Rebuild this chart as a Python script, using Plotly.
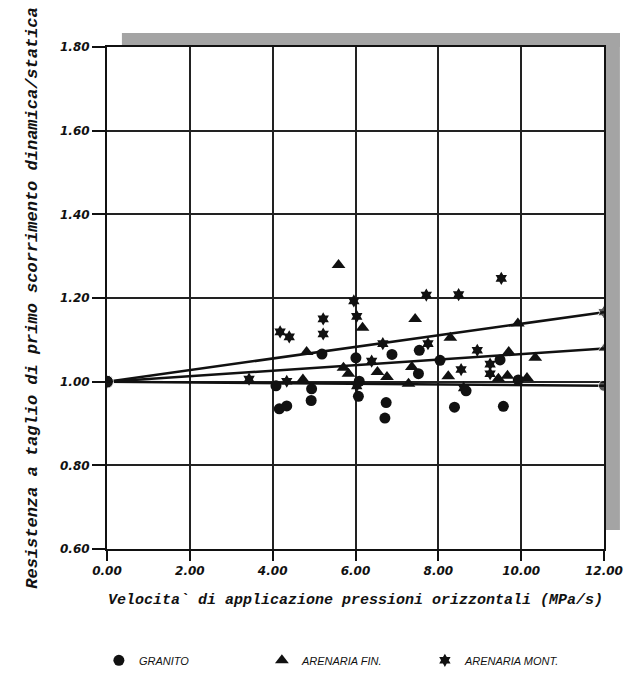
import plotly.graph_objects as go

# ---- data ----
granito_x = [4.08, 4.16, 4.34, 4.93, 4.94, 5.19, 6.01, 6.09, 6.07, 6.74, 6.71, 6.88, 7.54, 7.52, 8.04, 8.67, 8.39, 9.49, 9.57, 9.93]
granito_y = [0.990, 0.935, 0.942, 0.955, 0.983, 1.066, 1.057, 1.001, 0.965, 0.950, 0.913, 1.065, 1.075, 1.019, 1.051, 0.978, 0.939, 1.052, 0.941, 1.004]

fin_x = [4.73, 4.82, 5.59, 5.71, 5.83, 6.17, 6.53, 6.76, 7.28, 7.36, 7.44, 8.24, 8.29, 9.45, 9.67, 9.70, 9.92, 10.14, 10.34]
fin_y = [1.005, 1.071, 1.279, 1.033, 1.019, 1.129, 1.023, 1.011, 0.995, 1.035, 1.150, 1.013, 1.105, 1.007, 1.014, 1.071, 1.139, 1.009, 1.057]

mont_x = [3.43, 4.18, 4.34, 4.40, 5.22, 5.22, 5.96, 6.03, 6.03, 6.39, 6.66, 7.71, 7.75, 8.49, 8.55, 8.61, 8.94, 9.25, 9.25, 9.52]
mont_y = [1.006, 1.119, 1.001, 1.107, 1.114, 1.150, 1.193, 1.156, 0.990, 1.049, 1.091, 1.207, 1.091, 1.208, 1.029, 0.985, 1.075, 1.042, 1.019, 1.247]

# regression lines: from origin point to value at x = 12
reg_x = [0.0, 12.0]
reg_start = 1.00
reg_end_granito = 0.990
reg_end_fin = 1.079
reg_end_mont = 1.166

names = ["GRANITO", "ARENARIA FIN.", "ARENARIA MONT."]
x_title = "Velocita` di applicazione pressioni orizzontali (MPa/s)"
y_title = "Resistenza a taglio di primo scorrimento dinamica/statica"

INK = "#111111"
MS = 11

fig = go.Figure()

# regression lines
for end, sym in [(reg_end_granito, "circle"), (reg_end_fin, "triangle-up"), (reg_end_mont, "hexagram")]:
    fig.add_trace(go.Scatter(
        x=reg_x, y=[reg_start, end], mode="lines+markers",
        line=dict(color=INK, width=2.5),
        marker=dict(symbol=["circle", sym], size=[13, 11], color=INK),
        showlegend=False, hoverinfo="skip"))

fig.add_trace(go.Scatter(x=granito_x, y=granito_y, mode="markers", name=names[0],
                         marker=dict(symbol="circle", size=MS, color=INK)))
fig.add_trace(go.Scatter(x=fin_x, y=fin_y, mode="markers", name=names[1],
                         marker=dict(symbol="triangle-up", size=MS + 1, color=INK)))
fig.add_trace(go.Scatter(x=mont_x, y=mont_y, mode="markers", name=names[2],
                         marker=dict(symbol="hexagram", size=MS - 1, color=INK)))

# grey drop-shadow frame (top and right)
shadow = "#a4a4a4"
fig.add_shape(type="rect", xref="paper", yref="paper", x0=0.03, x1=1.032, y0=1.0, y1=1.028,
              fillcolor=shadow, line=dict(width=0), layer="below")
fig.add_shape(type="rect", xref="paper", yref="paper", x0=1.0, x1=1.032, y0=0.038, y1=1.028,
              fillcolor=shadow, line=dict(width=0), layer="below")

tick_font = dict(family="DejaVu Sans", size=12, color=INK, weight="bold", style="italic")
title_font = dict(family="Liberation Mono", size=15, color=INK, weight="bold", style="italic")

fig.update_xaxes(range=[0, 12], dtick=2, tick0=0, tickformat=".2f",
                 showgrid=True, gridcolor="#222222", gridwidth=1.6,
                 showline=True, linecolor=INK, linewidth=2, mirror=True,
                 ticks="outside", ticklen=10, tickwidth=2, tickcolor=INK,
                 tickfont=tick_font, zeroline=False,
                 title=dict(text=x_title, font=title_font, standoff=16))
fig.update_yaxes(range=[0.6, 1.8], dtick=0.2, tick0=0.6, tickformat=".2f",
                 showgrid=True, gridcolor="#222222", gridwidth=1.6,
                 showline=True, linecolor=INK, linewidth=2, mirror=True,
                 ticks="outside", ticklen=13, tickwidth=2, tickcolor=INK,
                 tickfont=tick_font, zeroline=False,
                 title=dict(text=y_title, font=dict(family="Liberation Mono", size=17, color=INK,
                                                    weight="bold", style="italic"), standoff=18))

fig.update_layout(
    width=638, height=680,
    margin=dict(l=107, r=34, t=47, b=131),
    paper_bgcolor="white", plot_bgcolor="white",
    showlegend=True,
    legend=dict(orientation="h", xref="container", yref="container",
                x=0.155, y=0.029, xanchor="left", yanchor="middle",
                entrywidth=118, entrywidthmode="pixels",
                font=dict(family="Liberation Sans", size=11, color=INK, style="italic"),
                bgcolor="rgba(0,0,0,0)"),
)

fig.write_html("out.html")
